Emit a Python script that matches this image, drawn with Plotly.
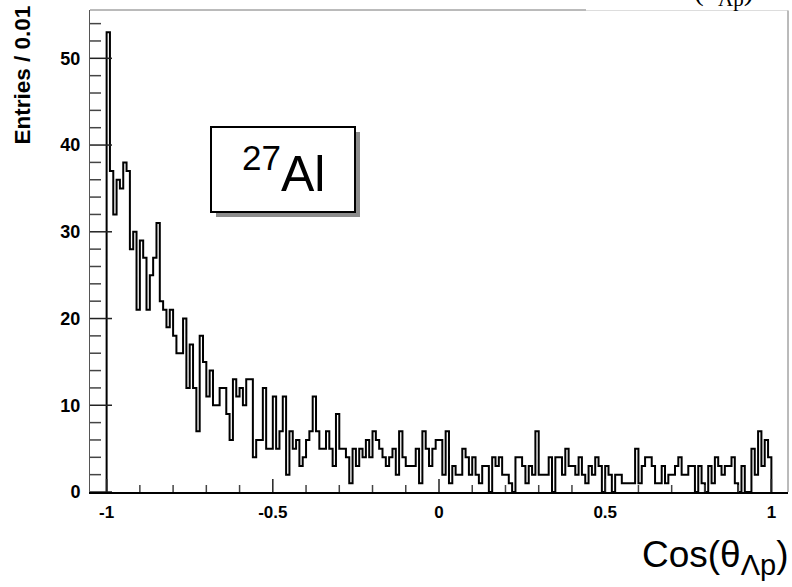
import numpy as np
import plotly.graph_objects as go

# ---- data: 200 bins of width 0.01 from -1 to 1 ----
bin_low = -1.0
bin_width = 0.01
counts = [
    53, 37, 32, 36, 35, 38, 37, 28, 30, 21,   # 0-9
    29, 27, 21, 25, 27, 31, 22, 21, 19, 21,   # 10-19
    18, 16, 16, 20, 12, 17, 12, 7, 18, 15,    # 20-29
    11, 14, 10, 10, 12, 12, 9, 6, 13, 11,     # 30-39
    12, 10, 13, 13, 4, 6, 6, 12, 5, 5,        # 40-49
    11, 5, 7, 11, 2, 7, 5, 6, 3, 4,           # 50-59
    6, 7, 11, 7, 5, 5, 7, 5, 3, 9,            # 60-69
    5, 5, 4, 1, 5, 3, 5, 4, 6, 4,             # 70-79
    7, 6, 5, 4, 3, 4, 5, 2, 7, 4,             # 80-89
    3, 3, 3, 5, 1, 7, 5, 3, 5, 6,             # 90-99
    6, 2, 7, 1, 3, 2, 2, 5, 4, 2,             # 100-109
    4, 2, 1, 3, 3, 0, 4, 3, 4, 2,             # 110-119
    2, 1, 0, 4, 4, 3, 1, 3, 2, 7,             # 120-129
    2, 2, 2, 4, 0, 4, 4, 2, 5, 3,             # 130-139
    3, 2, 4, 2, 1, 3, 2, 4, 3, 0,             # 140-149
    3, 2, 0, 2, 2, 1, 1, 1, 1, 5,             # 150-159
    1, 3, 4, 4, 3, 1, 1, 3, 1, 2,             # 160-169
    2, 3, 4, 2, 2, 3, 3, 0, 3, 1,             # 170-179
    0, 3, 1, 4, 3, 2, 3, 3, 4, 1,             # 180-189
    0, 3, 0, 0, 5, 2, 7, 3, 6, 4,             # 190-199
]
x_tickvals = [-1, -0.5, 0, 0.5, 1]
x_ticktext = ["-1", "-0.5", "0", "0.5", "1"]
x_minor_step = 0.1
y_tickvals = [0, 10, 20, 30, 40, 50]
y_ticktext = ["0", "10", "20", "30", "40", "50"]
y_minor_step = 2
x_title = "Cos(θ<sub><span style='font-size:29px'>Λp</span></sub>)"
y_title = "Entries / 0.01"
label_text = "<sup>27</sup>Al"

# ---- geometry ----
W, H = 792, 587
L, R, T, B = 90, 4, 10, 95
PW, PH = W - L - R, H - T - B
X_RANGE = [-1.05, 1.05]
Y_RANGE = [0, 55.57]


def px(x):
    return (x - L) / PW


def py(y):
    return (H - B - y) / PH


n = len(counts)
edges = bin_low + bin_width * np.arange(n + 1)
xs = [float(v) for v in ([edges[0]] + list(edges[:-1]) + [edges[-1], edges[-1]])]
ys = [0] + counts + [counts[-1], 0]

fig = go.Figure()
fig.add_trace(go.Scatter(
    x=xs, y=ys, mode="lines", line=dict(color="black", width=2, shape="hv"),
    hoverinfo="skip", showlegend=False, cliponaxis=False,
))

fig.update_layout(
    width=W, height=H,
    margin=dict(l=L, r=R, t=T, b=B, pad=0),
    paper_bgcolor="white", plot_bgcolor="white",
    showlegend=False,
    xaxis=dict(
        range=X_RANGE, showgrid=False, zeroline=False,
        showline=True, linecolor="black", linewidth=1.5,
        tickvals=x_tickvals, ticktext=x_ticktext, ticks="",
        tickfont=dict(family="Liberation Sans, Arial, sans-serif", size=17, color="black", weight="bold"),
        ticklabelstandoff=4,
    ),
    yaxis=dict(
        range=Y_RANGE, showgrid=False, zeroline=False,
        showline=True, linecolor="#555", linewidth=1,
        tickvals=y_tickvals, ticktext=y_ticktext, ticks="",
        tickfont=dict(family="Liberation Sans, Arial, sans-serif", size=18, color="black", weight="bold"),
        ticklabelstandoff=5,
    ),
)

shapes = []
# tick marks (inside), positions taken from the tick arrays
n_xminor = int(round((x_tickvals[-1] - x_tickvals[0]) / x_minor_step))
for k in range(n_xminor + 1):
    v = float(x_tickvals[0] + k * x_minor_step)
    major = any(abs(v - t) < 1e-9 for t in x_tickvals)
    ln = 13 if major else 7
    shapes.append(dict(type="line", xref="x", yref="paper", x0=v, x1=v, y0=0, y1=ln / PH,
                       line=dict(color="#222" if major else "#444", width=1.5), layer="above"))
n_yminor = int(Y_RANGE[1] // y_minor_step)
for k in range(n_yminor + 1):
    v = float(k * y_minor_step)
    major = any(abs(v - t) < 1e-9 for t in y_tickvals)
    ln = 22 if major else 11
    shapes.append(dict(type="line", xref="paper", yref="y", x0=0, x1=ln / PW, y0=v, y1=v,
                       line=dict(color="#222" if major else "#444", width=1.5), layer="above"))
# frame top and right (thin gray)
shapes.append(dict(type="line", xref="paper", yref="paper", x0=0, x1=1, y0=1, y1=1,
                   line=dict(color="#777", width=1)))
shapes.append(dict(type="line", xref="paper", yref="paper", x0=1, x1=1, y0=0, y1=1,
                   line=dict(color="#777", width=1)))
# white title box hiding the top-right part of the frame
shapes.append(dict(type="rect", xref="paper", yref="paper", x0=px(586), x1=px(800),
                   y0=py(10.6), y1=py(-20), fillcolor="white", line=dict(width=0)))
# label box with shadow
shapes.append(dict(type="rect", xref="paper", yref="paper", x0=px(216), x1=px(360),
                   y0=py(217), y1=py(132), fillcolor="#8c8c8c", line=dict(width=0)))
shapes.append(dict(type="rect", xref="paper", yref="paper", x0=px(211), x1=px(355),
                   y0=py(212), y1=py(127), fillcolor="white", line=dict(color="black", width=2)))
fig.update_layout(shapes=shapes)

ann = []
ann.append(dict(text=label_text, xref="paper", yref="paper", x=px(283), y=py(170),
                xanchor="center", yanchor="middle", showarrow=False,
                font=dict(family="Liberation Sans, Arial, sans-serif", size=50, color="black")))
ann.append(dict(text=x_title, xref="paper", yref="paper", x=px(791), y=py(532),
                xanchor="right", yanchor="top", showarrow=False,
                font=dict(family="Liberation Sans, Arial, sans-serif", size=37, color="black")))
ann.append(dict(text=y_title, xref="paper", yref="paper", x=px(22), y=py(4),
                xanchor="center", yanchor="top", textangle=-90, showarrow=False,
                font=dict(family="Liberation Sans, Arial, sans-serif", size=22.5, color="black", weight="bold")))
# partially visible title at the very top
ann.append(dict(text="Cos(θ<sub>Λp</sub>)", xref="paper", yref="paper", x=px(756), y=py(13),
                xanchor="right", yanchor="bottom", showarrow=False,
                font=dict(family="Liberation Serif, Times New Roman, serif", size=30, color="black")))
fig.update_layout(annotations=ann)

fig.write_html("out.html")
